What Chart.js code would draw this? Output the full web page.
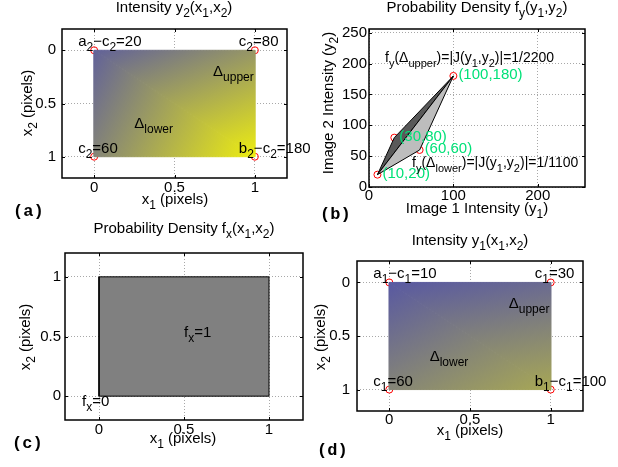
<!DOCTYPE html>
<html>
<head>
<meta charset="utf-8">
<script src="https://cdn.jsdelivr.net/npm/chart.js@4.4.0/dist/chart.umd.min.js"></script>
<style>
html, body { margin: 0; padding: 0; background: #fff; }
#wrap { position: relative; width: 618px; height: 467px; overflow: hidden; background: #fff; }
#wrap canvas { position: absolute; left: 0; top: 0; }
</style>
</head>
<body>
<div id="wrap">
  <canvas id="pa" width="618" height="467"></canvas>
  <canvas id="pb" width="618" height="467"></canvas>
  <canvas id="pc" width="618" height="467"></canvas>
  <canvas id="pd" width="618" height="467"></canvas>
</div>
<script>
// values
const unitTicks = [0, 0.5, 1];
const unitRange = [-0.2, 1.2];
const cornerX1 = [0, 1, 0, 1];
const cornerX2 = [0, 0, 1, 1];
const intensity1 = [10, 30, 60, 100];
const intensity2 = [20, 80, 60, 180];
const labels1 = ['a_1−c_1=10', 'c_1=30', 'c_1=60', 'b_1−c_1=100'];
const labels2 = ['a_2−c_2=20', 'c_2=80', 'c_2=60', 'b_2−c_2=180'];
const pointLabels = ['(10,20)', '(30,80)', '(60,60)', '(100,180)'];
const upperTri = [0, 1, 3];
const lowerTri = [0, 2, 3];
const densTicksX = [0, 100, 200];
const densTicksY = [0, 50, 100, 150, 200, 250];
const densRange = [0, 256];
const squareX = [0, 1, 1, 0, 0];
const squareY = [0, 0, 1, 1, 0];

const W = 618, H = 467;
const Y_W = 40, X_H = 24, TL = 3;
const FS = 15, SUB = 12;
const FONT = '"Liberation Sans", Arial, Helvetica, sans-serif';
const GREEN = 'rgb(0,225,120)';
const CMAP = [0, 200, 'rgb(80,80,170)', 'rgb(255,255,0)'];

Chart.defaults.font.family = FONT;
Chart.defaults.color = '#000';

function texParts(s) {
    const out = [];
    let i = 0, buf = '';
    while (i < s.length) {
        if (s[i] === '_') {
            if (buf) { out.push({ t: buf, sub: false }); buf = ''; }
            let t;
            if (s[i + 1] === '{') {
                const j = s.indexOf('}', i);
                t = s.slice(i + 2, j);
                i = j + 1;
            } else {
                t = s[i + 1];
                i += 2;
            }
            out.push({ t, sub: true });
        } else {
            buf += s[i];
            i++;
        }
    }
    if (buf) out.push({ t: buf, sub: false });
    return out;
}

function drawTex(ctx, s, x, y, o) {
    const size = o.size || FS, sub = o.sub || SUB;
    const parts = texParts(s);
    const fonts = parts.map(p => (p.sub ? sub : size) + 'px ' + FONT);
    let w = 0;
    const ws = parts.map((p, k) => {
        ctx.font = fonts[k];
        const m = ctx.measureText(p.t).width;
        w += m;
        return m;
    });
    ctx.save();
    ctx.translate(x, y);
    if (o.rot) ctx.rotate(o.rot);
    let cx = o.align === 'center' ? -w / 2 : 0;
    const base = o.center ? size * 0.35 : 0;
    ctx.fillStyle = o.color || '#000';
    ctx.textAlign = 'left';
    ctx.textBaseline = 'alphabetic';
    parts.forEach((p, k) => {
        ctx.font = fonts[k];
        ctx.fillText(p.t, cx, base + (p.sub ? 5 : 0));
        cx += ws[k];
    });
    ctx.restore();
}

function cornerNotes(labels) {
    return labels.map((s, i) => ({ x: cornerX1[i], y: cornerX2[i], s, dx: -16, dy: -4 }));
}
const deltaNotes = [
    { x: 0.74, y: 0.24, s: 'Δ_{upper}' },
    { x: 0.25, y: 0.73, s: 'Δ_{lower}' }
];

const decor = {
    pa: { title: ['Intensity y_2(x_1,x_2)', 174, 7], xlab: ['x_1 (pixels)', 175, 199], ylab: ['x_2 (pixels)', 27, 103],
          tag: ['(a)', 13, 212], notes: cornerNotes(labels2).concat(deltaNotes) },
    pb: { title: ['Probability Density f_y(y_1,y_2)', 477, 7], xlab: ['Image 1 Intensity (y_1)', 477, 208],
          ylab: ['Image 2 Intensity (y_2)', 328, 103], tag: ['(b)', 320, 215],
          notes: pointLabels.map((s, i) => ({ x: intensity1[i], y: intensity2[i], s, dx: 5, dy: 3, color: GREEN })).concat([
              { x: 19, y: 202.5, s: 'f_y(Δ_{upper})=|J(y_1,y_2)|=1/2200', size: 14, sub: 11 },
              { x: 51, y: 32.4, s: 'f_y(Δ_{lower})=|J(y_1,y_2)|=1/1100', size: 14, sub: 11 }
          ]) },
    pc: { title: ['Probability Density f_x(x_1,x_2)', 184, 228], xlab: ['x_1 (pixels)', 183, 438], ylab: ['x_2 (pixels)', 25, 337],
          tag: ['(c)', 12, 444], notes: [{ x: 0.5, y: 0.5, s: 'f_x=1' }, { x: -0.1, y: -0.08, s: 'f_x=0' }] },
    pd: { title: ['Intensity y_1(x_1,x_2)', 470, 240], xlab: ['x_1 (pixels)', 470, 430], ylab: ['x_2 (pixels)', 320, 337],
          tag: ['(d)', 317, 451], notes: cornerNotes(labels1).concat(deltaNotes) }
};

const deco = {
    id: 'deco',
    afterDraw(chart) {
        const d = decor[chart.canvas.id];
        const ctx = chart.ctx, a = chart.chartArea, sx = chart.scales.x, sy = chart.scales.y;
        ctx.save();
        ctx.strokeStyle = '#000';
        ctx.lineWidth = 1;
        ctx.beginPath();
        sx.ticks.forEach(t => {
            const p = Math.round(sx.getPixelForValue(t.value)) + 0.5;
            ctx.moveTo(p, a.bottom); ctx.lineTo(p, a.bottom - TL);
            ctx.moveTo(p, a.top); ctx.lineTo(p, a.top + TL);
        });
        sy.ticks.forEach(t => {
            const p = Math.round(sy.getPixelForValue(t.value)) + 0.5;
            ctx.moveTo(a.left, p); ctx.lineTo(a.left + TL, p);
            ctx.moveTo(a.right, p); ctx.lineTo(a.right - TL, p);
        });
        ctx.stroke();
        ctx.lineWidth = 1.5;
        ctx.strokeRect(a.left, a.top, a.right - a.left, a.bottom - a.top);

        drawTex(ctx, d.title[0], d.title[1], d.title[2], { align: 'center', center: true });
        drawTex(ctx, d.xlab[0], d.xlab[1], d.xlab[2], { align: 'center', center: true });
        drawTex(ctx, d.ylab[0], d.ylab[1], d.ylab[2], { align: 'center', center: true, rot: -Math.PI / 2 });
        d.notes.forEach(n => {
            drawTex(ctx, n.s, sx.getPixelForValue(n.x) + (n.dx || 0), sy.getPixelForValue(n.y) + (n.dy || 0),
                    { color: n.color, size: n.size, sub: n.sub });
        });
        ctx.font = 'bold 17px "Liberation Mono", "Courier New", monospace';
        ctx.fillStyle = '#000';
        ctx.textAlign = 'left';
        ctx.textBaseline = 'middle';
        ctx.fillText(d.tag[0], d.tag[1], d.tag[2]);
        ctx.restore();
    }
};

// linear colour over a triangle, as a canvas gradient in pixel space
function triFill(chart, tri, xs, ys, vals) {
    const sx = chart.scales.x, sy = chart.scales.y;
    if (!sx || !sy || !chart.chartArea) return CMAP[2];
    const P = tri.map(i => [sx.getPixelForValue(xs[i]), sy.getPixelForValue(ys[i])]);
    const v = tri.map(i => vals[i]);
    const a1 = P[1][0] - P[0][0], b1 = P[1][1] - P[0][1];
    const a2 = P[2][0] - P[0][0], b2 = P[2][1] - P[0][1];
    const d1 = v[1] - v[0], d2 = v[2] - v[0];
    const det = a1 * b2 - a2 * b1;
    const gx = (d1 * b2 - b1 * d2) / det, gy = (a1 * d2 - a2 * d1) / det;
    const g2 = gx * gx + gy * gy;
    const t0 = (CMAP[0] - v[0]) / g2, t1 = (CMAP[1] - v[0]) / g2;
    const grad = chart.ctx.createLinearGradient(P[0][0] + gx * t0, P[0][1] + gy * t0, P[0][0] + gx * t1, P[0][1] + gy * t1);
    grad.addColorStop(0, CMAP[2]);
    grad.addColorStop(1, CMAP[3]);
    return grad;
}

function closed(tri, xs, ys) {
    return tri.concat(tri[0]).map(i => ({ x: xs[i], y: ys[i] }));
}

function triSet(tri, vals) {
    const f = c => triFill(c.chart, tri, cornerX1, cornerX2, vals);
    return { data: closed(tri, cornerX1, cornerX2), fill: 'shape', backgroundColor: f, borderColor: f,
             borderWidth: 1, pointRadius: 0, pointHitRadius: 0 };
}

function markers(xs, ys) {
    return { data: xs.map((x, i) => ({ x, y: ys[i] })), showLine: false, pointRadius: 3.5,
             pointBorderColor: 'red', pointBackgroundColor: 'rgba(0,0,0,0)', pointBorderWidth: 1 };
}

function axis(range, ticks, pad, rev, isX) {
    return {
        type: 'linear', min: range[0], max: range[1], reverse: !!rev, bounds: 'data',
        afterBuildTicks: s => { s.ticks = ticks.map(v => ({ value: v })); },
        afterFit: s => { if (isX) s.height = X_H; else s.width = Y_W; },
        grid: { color: '#a8a8a8', lineWidth: 1, drawTicks: false },
        border: { display: false, dash: [1, 2] },
        ticks: { padding: pad, autoSkip: false, maxRotation: 0, color: '#000', font: { size: FS, family: FONT },
                 callback: v => String(v) }
    };
}

function makeChart(id, box, xr, yr, xt, yt, rev, pads, datasets) {
    return new Chart(document.getElementById(id), {
        type: 'line',
        data: { datasets },
        options: {
            responsive: false,
            animation: false,
            devicePixelRatio: 1,
            events: [],
            layout: { padding: { left: box[0] - Y_W, top: box[2], right: W - box[1], bottom: H - box[3] - X_H } },
            plugins: { legend: { display: false }, tooltip: { enabled: false } },
            scales: {
                x: axis(xr, xt, pads[1], false, true),
                y: axis(yr, yt, pads[0], rev, false)
            }
        },
        plugins: [deco]
    });
}

makeChart('pa', [62, 287, 29, 178], unitRange, unitRange, unitTicks, unitTicks, true, [6, 1], [
    triSet(upperTri, intensity2),
    triSet(lowerTri, intensity2),
    markers(cornerX1, cornerX2)
]);

makeChart('pb', [369, 585, 29, 187], densRange, densRange, densTicksX, densTicksY, false, [2, 0], [
    { data: closed(lowerTri, intensity1, intensity2), fill: 'shape', backgroundColor: '#bdbdbd', borderColor: '#000',
      borderWidth: 1, pointRadius: 0 },
    { data: closed(upperTri, intensity1, intensity2), fill: 'shape', backgroundColor: '#595959', borderColor: '#000',
      borderWidth: 1, pointRadius: 0 },
    markers(intensity1, intensity2)
]);

makeChart('pc', [65, 303, 253, 420], unitRange, unitRange, unitTicks, unitTicks, false, [4, 1], [
    { data: squareX.map((x, i) => ({ x, y: squareY[i] })), fill: 'shape', backgroundColor: '#808080', borderColor: '#000',
      borderWidth: 1, pointRadius: 0 }
]);

makeChart('pd', [357, 583, 261, 411], unitRange, unitRange, unitTicks, unitTicks, true, [7, 0], [
    triSet(upperTri, intensity1),
    triSet(lowerTri, intensity1),
    markers(cornerX1, cornerX2)
]);
</script>
</body>
</html>
